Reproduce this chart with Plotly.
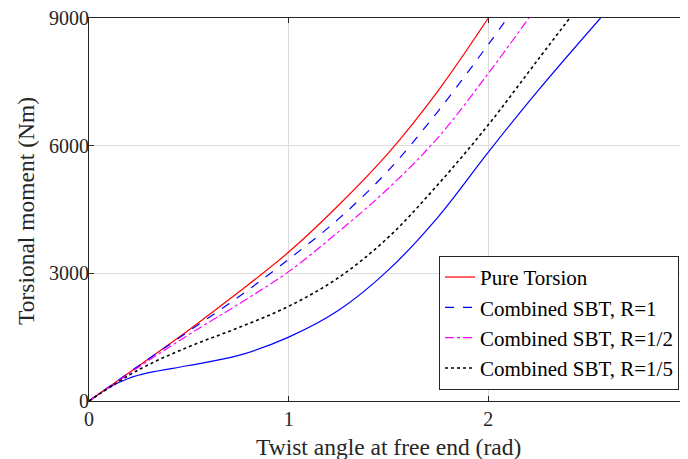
import plotly.graph_objects as go

# Pure Torsion
x_pure = [0, 0.25, 0.5, 0.75, 1.0, 1.25, 1.5, 1.75, 2.0]
y_pure = [0, 830, 1670, 2560, 3500, 4600, 5830, 7300, 9000]

# Combined SBT, R=1
x_r1 = [0, 0.25, 0.5, 0.75, 1.0, 1.25, 1.5, 1.75, 2.0, 2.096]
y_r1 = [0, 830, 1640, 2450, 3330, 4280, 5420, 6820, 8380, 9000]

# Combined SBT, R=1/2
x_r2 = [0, 0.25, 0.5, 0.75, 1.0, 1.25, 1.5, 1.75, 2.0, 2.203]
y_r2 = [0, 800, 1560, 2280, 3040, 3980, 5000, 6200, 7700, 9000]

# Combined SBT, R=1/5
x_r5 = [0, 0.25, 0.5, 0.75, 1.0, 1.25, 1.5, 1.75, 2.0, 2.25, 2.408]
y_r5 = [0, 737, 1275, 1725, 2225, 2900, 3850, 5100, 6490, 8030, 9000]

# unlabeled solid blue curve
x_blue = [0, 0.1, 0.2, 0.3, 0.5, 0.75, 1.0, 1.25, 1.5, 1.75, 2.0, 2.25, 2.562]
y_blue = [0, 315, 535, 665, 835, 1072, 1500, 2130, 3080, 4334, 5850, 7300, 9000]

x_ticks = [0, 1, 2, 3]
y_ticks = [0, 3000, 6000, 9000]

FONT = "Liberation Serif, Times New Roman, Times, serif"
AX = "#262626"
LW = 1.2

fig = go.Figure()
fig.add_trace(go.Scatter(x=x_blue, y=y_blue, mode="lines", showlegend=False,
                         line=dict(color="#0000FF", width=LW, shape="spline", smoothing=1)))
fig.add_trace(go.Scatter(x=x_pure, y=y_pure, mode="lines", name="Pure Torsion",
                         line=dict(color="#FF0000", width=LW, shape="spline", smoothing=1)))
fig.add_trace(go.Scatter(x=x_r1, y=y_r1, mode="lines", name="Combined SBT, R=1",
                         line=dict(color="#0000FF", width=LW, dash="dash", shape="spline", smoothing=1)))
fig.add_trace(go.Scatter(x=x_r2, y=y_r2, mode="lines", name="Combined SBT, R=1/2",
                         line=dict(color="#FF00FF", width=LW, dash="dashdot", shape="spline", smoothing=1)))
fig.add_trace(go.Scatter(x=x_r5, y=y_r5, mode="lines", name="Combined SBT, R=1/5",
                         line=dict(color="#000000", width=1.6, dash="dot", shape="spline", smoothing=1)))

axis_common = dict(
    showline=True, linecolor=AX, linewidth=1, mirror="ticks",
    ticks="inside", ticklen=5, tickcolor=AX, tickwidth=1,
    showgrid=True, gridcolor="#DCDCDC", gridwidth=1,
    zeroline=False, automargin=False, ticklabeloverflow="allow",
    tickfont=dict(family=FONT, size=20, color=AX),
)

# the page body adds an 8px offset, so the figure is 8px smaller than the window
fig.update_layout(
    width=680, height=451,
    margin=dict(l=81, r=0, t=10, b=58, autoexpand=False),
    paper_bgcolor="white", plot_bgcolor="white",
    font=dict(family=FONT, color=AX),
    xaxis=dict(range=[0, 3], tickvals=x_ticks, ticktext=[str(v) for v in x_ticks],
               **axis_common),
    yaxis=dict(range=[0, 9000], tickvals=y_ticks, ticktext=[str(v) for v in y_ticks],
               ticklabelstandoff=-5, **axis_common),
    legend=dict(x=0.985, y=0.029, xanchor="right", yanchor="bottom",
                bgcolor="white", bordercolor=AX, borderwidth=1,
                font=dict(family=FONT, size=21, color="#000000"),
                tracegroupgap=0),
    showlegend=True,
    annotations=[
        dict(text="Twist angle at free end (rad)", xref="paper", yref="paper",
             x=0.5, y=0, xanchor="center", yanchor="middle", yshift=-46,
             showarrow=False, font=dict(family=FONT, size=23.5, color=AX)),
        dict(text="Torsional moment (Nm)", xref="paper", yref="paper",
             x=0, y=0.496, xanchor="center", yanchor="middle", xshift=-63,
             textangle=-90, showarrow=False, font=dict(family=FONT, size=23.5, color=AX)),
    ],
)

fig.write_html("out.html")
